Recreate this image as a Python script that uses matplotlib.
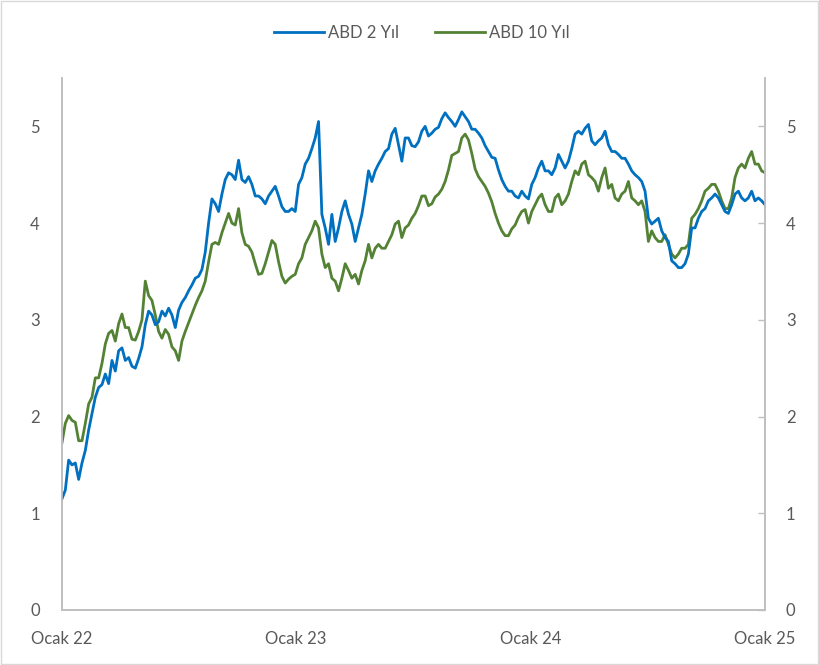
import numpy as np
import pandas as pd
import matplotlib
matplotlib.use("Agg")
import matplotlib.pyplot as plt
import matplotlib.dates as mdates

plt.rcParams['font.family'] = ['Lato', 'DejaVu Sans']

# ABD 2 yillik getiri (%), Ocak 22 - Ocak 25
us2y = [
    1.15, 1.24, 1.55, 1.50, 1.52, 1.35, 1.52, 1.65, 1.86, 2.03, 2.20, 2.30, 2.33, 2.44, 2.34, 2.58, 2.47,
    2.68, 2.71, 2.58, 2.61, 2.52, 2.50, 2.60, 2.72, 2.95, 3.09, 3.05, 2.95, 2.98, 3.09, 3.04, 3.12, 3.05,
    2.92, 3.10, 3.18, 3.23, 3.30, 3.36, 3.43, 3.45, 3.52, 3.70, 4.00, 4.25, 4.20, 4.12, 4.30, 4.45, 4.52, 4.50,
    4.45, 4.65, 4.45, 4.42, 4.48, 4.40, 4.28, 4.28, 4.25, 4.20, 4.28, 4.33, 4.38, 4.28, 4.17, 4.12, 4.12, 4.15,
    4.12, 4.40, 4.47, 4.61, 4.67, 4.77, 4.88, 5.05, 4.09, 3.95, 3.78, 4.09, 3.81, 3.95, 4.12, 4.23, 4.09, 3.99,
    3.81, 3.95, 4.09, 4.30, 4.54, 4.43, 4.54, 4.61, 4.67, 4.74, 4.77, 4.92, 4.98, 4.81, 4.64, 4.88, 4.88, 4.80,
    4.79, 4.84, 4.95, 5.00, 4.90, 4.93, 4.97, 4.99, 5.08, 5.14, 5.09, 5.05, 5.00, 5.07, 5.15, 5.10, 5.05, 4.97,
    4.97, 4.93, 4.88, 4.80, 4.74, 4.68, 4.67, 4.55, 4.45, 4.38, 4.33, 4.33, 4.28, 4.26, 4.33, 4.28, 4.25, 4.40,
    4.47, 4.57, 4.64, 4.54, 4.54, 4.50, 4.57, 4.71, 4.64, 4.57, 4.64, 4.77, 4.92, 4.95, 4.92, 4.98, 5.02, 4.85,
    4.81, 4.85, 4.88, 4.95, 4.81, 4.74, 4.74, 4.71, 4.67, 4.67, 4.61, 4.54, 4.50, 4.47, 4.43, 4.33, 4.05, 3.99,
    4.02, 4.05, 3.92, 3.85, 3.81, 3.61, 3.58, 3.54, 3.54, 3.58, 3.68, 3.95, 3.95, 4.05, 4.12, 4.15, 4.23, 4.26,
    4.30, 4.26, 4.19, 4.12, 4.10, 4.19, 4.30, 4.33, 4.26, 4.23, 4.26, 4.33, 4.23, 4.26, 4.23, 4.19,
]

# ABD 10 yillik getiri (%)
us10y = [
    1.73, 1.93, 2.01, 1.96, 1.94, 1.75, 1.75, 1.93, 2.13, 2.20, 2.40, 2.40, 2.55, 2.75, 2.86, 2.89, 2.78,
    2.96, 3.06, 2.92, 2.92, 2.80, 2.79, 2.88, 3.00, 3.40, 3.25, 3.20, 3.05, 2.88, 2.81, 2.90, 2.85, 2.72,
    2.68, 2.58, 2.78, 2.88, 2.97, 3.06, 3.15, 3.23, 3.30, 3.40, 3.60, 3.78, 3.80, 3.78, 3.90, 4.00, 4.10, 4.00,
    3.98, 4.15, 3.90, 3.78, 3.76, 3.70, 3.58, 3.47, 3.48, 3.58, 3.70, 3.82, 3.78, 3.60, 3.45, 3.38, 3.42, 3.45,
    3.47, 3.58, 3.64, 3.78, 3.85, 3.92, 4.02, 3.95, 3.68, 3.54, 3.58, 3.43, 3.40, 3.30, 3.43, 3.58, 3.51, 3.43,
    3.47, 3.37, 3.51, 3.61, 3.78, 3.64, 3.74, 3.78, 3.74, 3.74, 3.81, 3.88, 3.99, 4.02, 3.85, 3.95, 3.98, 4.05,
    4.10, 4.18, 4.28, 4.28, 4.18, 4.20, 4.27, 4.30, 4.35, 4.43, 4.55, 4.70, 4.72, 4.74, 4.88, 4.92, 4.86, 4.72,
    4.56, 4.48, 4.43, 4.38, 4.31, 4.22, 4.10, 4.00, 3.92, 3.87, 3.87, 3.94, 3.98, 4.06, 4.12, 4.14, 4.00, 4.12,
    4.19, 4.26, 4.30, 4.19, 4.12, 4.12, 4.26, 4.30, 4.19, 4.23, 4.30, 4.43, 4.54, 4.50, 4.61, 4.64, 4.50, 4.47,
    4.43, 4.33, 4.47, 4.57, 4.36, 4.40, 4.26, 4.23, 4.30, 4.33, 4.43, 4.26, 4.23, 4.19, 4.23, 4.12, 3.81, 3.92,
    3.85, 3.81, 3.81, 3.88, 3.78, 3.68, 3.64, 3.68, 3.74, 3.74, 3.78, 4.05, 4.09, 4.15, 4.23, 4.33, 4.36, 4.40,
    4.40, 4.33, 4.23, 4.15, 4.15, 4.26, 4.47, 4.57, 4.61, 4.57, 4.67, 4.74, 4.61, 4.61, 4.54, 4.52,
]

dates = pd.date_range('2022-01-01', '2025-01-01', periods=len(us2y))
tick_dates = pd.to_datetime(['2022-01-01', '2023-01-01', '2024-01-01', '2025-01-01'])
tick_labels = ['Ocak 22', 'Ocak 23', 'Ocak 24', 'Ocak 25']
y_ticks = [0, 1, 2, 3, 4, 5]

txt = '#595959'
grid_c = '#BFBFBF'

fig = plt.figure(figsize=(8.19, 6.65), dpi=100)
ax = fig.add_axes([62 / 819, 1 - 610 / 665, (765 - 62) / 819, (610 - 78) / 665])

ax.plot(dates, us2y, color='#0070C0', lw=2.0, label='ABD 2 Yıl', zorder=3)
ax.plot(dates, us10y, color='#548235', lw=2.0, label='ABD 10 Yıl', zorder=2)

ax.set_xlim(tick_dates[0], tick_dates[-1])
ax.set_ylim(0, 5.5)
ax.set_xticks(tick_dates)
ax.set_xticklabels(tick_labels)
ax.set_yticks(y_ticks)
ax.tick_params(axis='x', length=0, pad=15, labelsize=12, colors=txt)
ax.tick_params(axis='y', length=0, pad=16, labelsize=12, colors=txt)

# right axis mirrors the left one
ax2 = ax.twinx()
ax2.set_ylim(0, 5.5)
ax2.set_yticks(y_ticks)
ax2.tick_params(axis='y', direction='in', length=5, width=1, color=grid_c,
                pad=15, labelsize=12, colors=txt)

for a in (ax, ax2):
    a.spines['top'].set_visible(False)
    for s in ('left', 'right', 'bottom'):
        a.spines[s].set_color(grid_c)
        a.spines[s].set_linewidth(1.2)

fig.legend(loc='center', bbox_to_anchor=(0.515, 0.951), ncol=2, frameon=False,
           fontsize=12, labelcolor=txt, handlelength=3.0, handletextpad=0.2,
           columnspacing=2.2)

# chart border
fig.patches.append(plt.Rectangle((0.001, 0.001), 0.998, 0.998, transform=fig.transFigure,
                                 fill=False, edgecolor='#D9D9D9', lw=1))

fig.savefig('out.png', dpi=100)
